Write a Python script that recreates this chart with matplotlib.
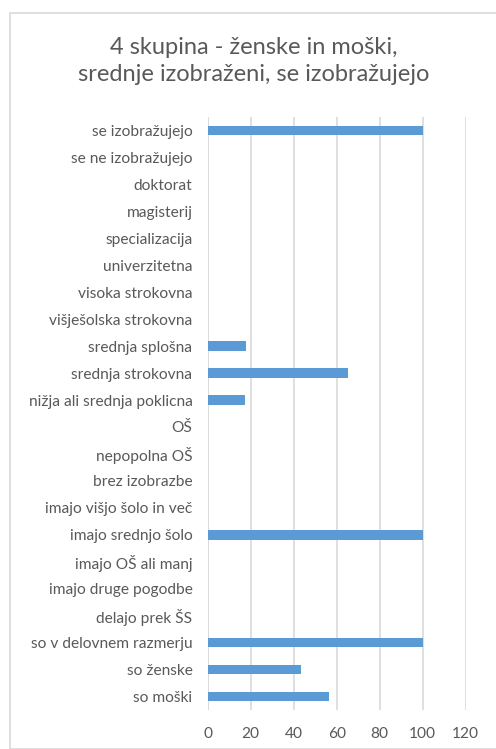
import numpy as np
import matplotlib.pyplot as plt
from matplotlib.patches import Rectangle

# ---*** DATA ***---
categories = ["se izobražujejo", "se ne izobražujejo", "doktorat", "magisterij",
              "specializacija", "univerzitetna", "visoka strokovna",
              "višješolska strokovna", "srednja splošna", "srednja strokovna",
              "nižja ali srednja poklicna", "OŠ", "nepopolna OŠ", "brez izobrazbe",
              "imajo višjo šolo in več", "imajo srednjo šolo", "imajo OŠ ali manj",
              "imajo druge pogodbe", "delajo prek ŠS", "so v delovnem razmerju",
              "so ženske", "so moški"]
values = [100, 0, 0, 0, 0, 0, 0, 0, 17.6, 65.1, 17.4, 0, 0, 0, 0, 100, 0, 0, 0, 100, 43.5, 56.5]
xticks = [0, 20, 40, 60, 80, 100, 120]
title = "4 skupina - ženske in moški,\nsrednje izobraženi, se izobražujejo"

# ---*** STYLE ***---
plt.rcParams['font.family'] = ['Lato', 'DejaVu Sans']
txt = "#595959"
grid = "#d9d9d9"
bar_col = "#5b9bd5"

fig = plt.figure(figsize=(4.96, 7.49), dpi=100)
fig.patches.append(Rectangle((10/496, 0), 1, 1 - 12.5/749, transform=fig.transFigure,
                             fill=False, edgecolor=grid, linewidth=1.2))

ax = fig.add_axes([207.7/496, 1 - 710/749, 258/496, 593/749])

y = np.arange(len(categories))
ax.barh(y, values, height=0.35, color=bar_col, zorder=3)
ax.set_ylim(len(categories) - 0.5, -0.5)
ax.set_xlim(0, 120)
ax.set_xticks(xticks)
ax.set_yticks(y)
ax.set_yticklabels(categories)
ax.xaxis.grid(True, color=grid, linewidth=1.2, zorder=0)
for s in ax.spines.values():
    s.set_visible(False)
ax.axvline(0, color=grid, linewidth=1.2, zorder=1)
ax.tick_params(axis='both', length=0, colors=txt, labelsize=11.2)
ax.tick_params(axis='y', pad=11)
ax.tick_params(axis='x', pad=12)

fig.text(254/496, 1 - 61/749, title, ha='center', va='center', fontsize=17,
         color=txt, linespacing=1.3)

fig.savefig("out.png", dpi=100)
